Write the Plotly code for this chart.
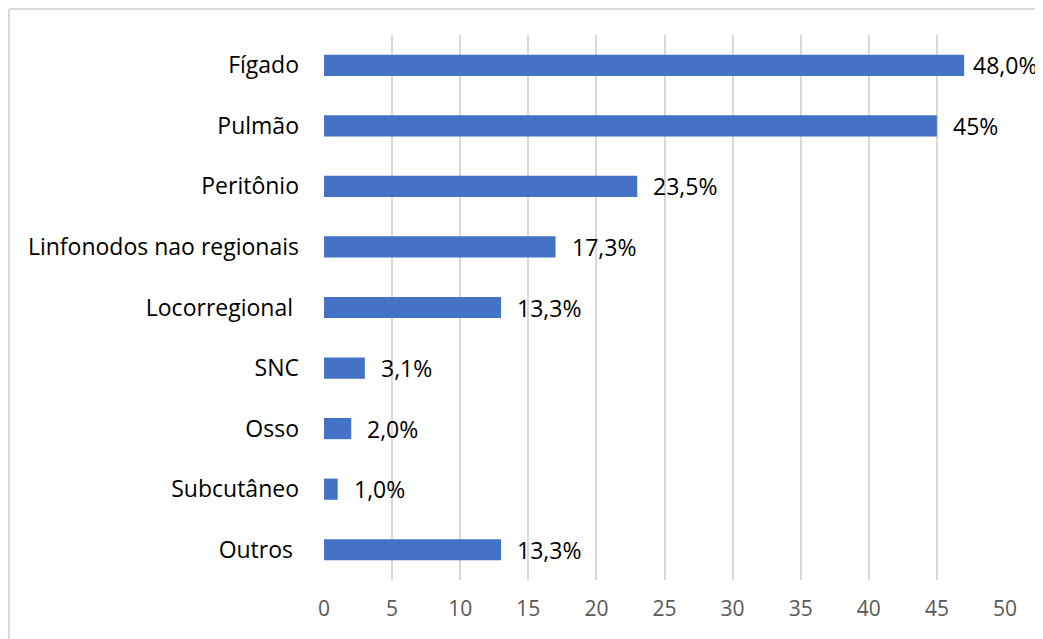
import plotly.graph_objects as go

categories = ["Fígado", "Pulmão", "Peritônio", "Linfonodos nao regionais",
              "Locorregional ", "SNC", "Osso", "Subcutâneo", "Outros "]
values = [47, 45, 23, 17, 13, 3, 2, 1, 13]
labels = ["48,0%", "45%", "23,5%", "17,3%", "13,3%", "3,1%", "2,0%", "1,0%", "13,3%"]
tick_vals = [0, 5, 10, 15, 20, 25, 30, 35, 40, 45, 50]

FONT = "Open Sans"

fig = go.Figure()
fig.add_trace(go.Bar(
    y=categories, x=values, orientation="h",
    marker=dict(color="#4472C4", line=dict(width=0)),
    width=0.35, hoverinfo="skip",
))

for c, v, t in zip(categories, values, labels):
    # labels near the chart's right edge get pulled in (as in the original)
    shift = 7 if v > 46 else 14
    fig.add_annotation(x=v, y=c, text=t, showarrow=False, xanchor="left",
                       yanchor="middle", xshift=shift,
                       font=dict(family=FONT, size=23, color="#000000"))

# outer chart border (top and left visible)
fig.add_shape(type="line", xref="paper", yref="paper", x0=-0.4626, x1=1.07,
              y0=1.0477, y1=1.0477, line=dict(color="#d9d9d9", width=2))
fig.add_shape(type="line", xref="paper", yref="paper", x0=-0.4626, x1=-0.4626,
              y0=1.0477, y1=-0.2, line=dict(color="#d9d9d9", width=2))

fig.update_layout(
    width=1035, height=631,
    margin=dict(l=316, r=38, t=27, b=59),
    paper_bgcolor="white", plot_bgcolor="white",
    showlegend=False,
    font=dict(family=FONT),
    xaxis=dict(range=[0, 50], tickvals=tick_vals, showgrid=True,
               gridcolor="#d9d9d9", gridwidth=2, zeroline=False,
               showline=False, ticks="", ticklen=0,
               ticklabelstandoff=14,
               tickfont=dict(family=FONT, size=21, color="#595959")),
    yaxis=dict(categoryorder="array", categoryarray=categories[::-1],
               autorange=False, range=[-0.5, 8.5],
               showgrid=False, zeroline=False, showline=False, ticks="",
               ticklabelstandoff=24,
               tickfont=dict(family=FONT, size=23, color="#000000")),
)

fig.write_html("out.html")
